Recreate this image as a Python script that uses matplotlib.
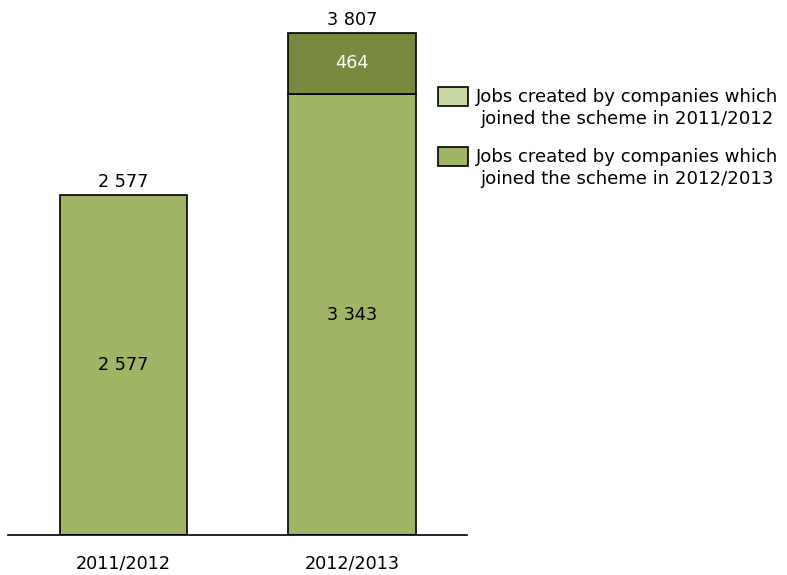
import matplotlib.pyplot as plt
from matplotlib.patches import Rectangle

plt.rcParams['font.family'] = ['DejaVu Sans']

years = ['2011/2012', '2012/2013']
jobs_base = [2577, 3343]
jobs_new = [0, 464]
totals = [2577, 3807]
legend_labels = ['Jobs created by companies which\njoined the scheme in 2011/2012',
                 'Jobs created by companies which\njoined the scheme in 2012/2013']

c_base = '#9FB465'
c_new = '#778A40'
c_leg1 = '#C6D7A2'

W, H = 787, 575
fig = plt.figure(figsize=(W / 100, H / 100), dpi=100)
ax = fig.add_axes([8 / W, 40 / H, 459 / W, 535 / H])

x = [0, 1]
w = 0.556
ax.bar(x, jobs_base, w, color=c_base, edgecolor='black', linewidth=1.2)
ax.bar(x[1], jobs_new[1], w, bottom=jobs_base[1], color=c_new, edgecolor='black', linewidth=1.2)

fs = 12.7
ax.text(0, jobs_base[0] / 2, '2 577', ha='center', va='center', fontsize=fs)
ax.text(1, jobs_base[1] / 2, '3 343', ha='center', va='center', fontsize=fs)
ax.text(1, jobs_base[1] + jobs_new[1] / 2, str(jobs_new[1]), ha='center', va='center',
        fontsize=fs, color='white')
for xi, t in zip(x, totals):
    ax.text(xi, t + 30, f'{t:,}'.replace(',', ' '), ha='center', va='bottom', fontsize=fs)

ax.set_xlim(-0.505, 1.503)
ax.set_ylim(0, 4056)
ax.set_xticks(x)
ax.set_xticklabels(years, fontsize=fs)
ax.tick_params(axis='x', length=0, pad=14)
ax.set_yticks([])
for s in ['top', 'right', 'left']:
    ax.spines[s].set_visible(False)
ax.spines['bottom'].set_linewidth(1.2)

# legend drawn by hand: patch lines up with first text line
leg_colors = [c_leg1, c_base]
patch_tops = [87, 147]
for col, top, lab in zip(leg_colors, patch_tops, legend_labels):
    fig.patches.append(Rectangle((438 / W, 1 - (top + 19) / H), 30 / W, 19 / H,
                                 transform=fig.transFigure, facecolor=col,
                                 edgecolor='black', linewidth=1.2))
    fig.text(476 / W, 1 - (top + 1) / H, lab, ha='left', va='top', fontsize=13.1,
             multialignment='center', linespacing=1.27)

fig.savefig('out.png', dpi=100)
